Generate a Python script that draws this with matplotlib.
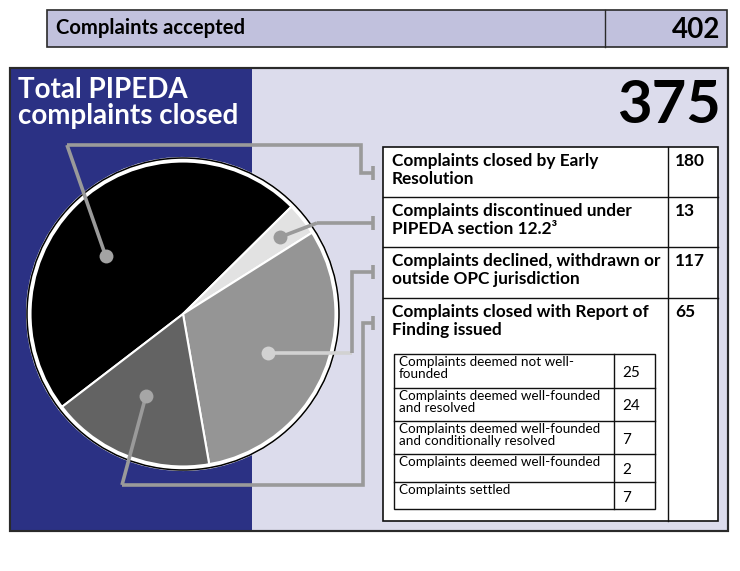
import numpy as np
import matplotlib
matplotlib.use('Agg')
import matplotlib.pyplot as plt
from matplotlib.patches import Rectangle, Circle

plt.rcParams['font.family'] = ['Lato', 'DejaVu Sans']

# ---- data ----
accepted_label = 'Complaints accepted'
accepted_total = 402
closed_title = 'Total PIPEDA\ncomplaints closed'
closed_total = 375

closed_labels = ['Complaints closed by Early\nResolution',
                 'Complaints discontinued under\nPIPEDA section 12.2\u00b3',
                 'Complaints declined, withdrawn or\noutside OPC jurisdiction',
                 'Complaints closed with Report of\nFinding issued']
closed_counts = [180, 13, 117, 65]

finding_labels = ['Complaints deemed not well-\nfounded',
                  'Complaints deemed well-founded\nand resolved',
                  'Complaints deemed well-founded\nand conditionally resolved',
                  'Complaints deemed well-founded',
                  'Complaints settled']
finding_counts = [25, 24, 7, 2, 7]

# ---- styles / layout (pixels) ----
slice_colors = ['#000000', '#e2e2e2', '#959595', '#636363']
dot_colors = ['#a3a3a3', '#9a9a9a', '#d2d2d2', '#a6a6a6']
dot_r = [0.62, 0.79, 0.60, 0.58]
dot_shift = [12, 0, -1, -3]
lead_col = '#9a9a9a'
blue = '#2b3184'
lav = '#dcdcec'
lav_top = '#c1c1dd'

W, H = 740, 571
pie_cx, pie_cy, pie_rad = 183, 314, 156

row_tops = [147, 197, 247, 298, 521]
col_x = [383, 668, 718]
sub_rows = [354, 388, 421, 454, 482, 509]
sub_x = [394, 614, 655]

# elbows for leader lines (pixel coords), last point is the T-end
elbows = [[(67, 145), (361, 145), (361, 173), (373, 173)],
          [(317, 223), (373, 223)],
          [(352, None), (352, 272), (373, 272)],
          [(122, 485), (363, 485), (363, 323), (373, 323)]]

fig = plt.figure(figsize=(W / 100, H / 100), dpi=100)
fig.patch.set_facecolor('white')

ax = fig.add_axes([0, 0, 1, 1], zorder=0)
ax.set_xlim(0, W)
ax.set_ylim(H, 0)
ax.axis('off')

# top box
ax.add_patch(Rectangle((47, 10), 680, 37, fc=lav_top, ec='#2a2a2a', lw=1.2))
ax.plot([605, 605], [10, 47], color='#2a2a2a', lw=1.0)
ax.text(56, 28.5, accepted_label, fontsize=14.6, fontweight='bold', va='center', ha='left')
ax.text(720, 30, str(accepted_total), fontsize=20, fontweight='bold', va='center', ha='right')

# main box
ax.add_patch(Rectangle((10, 68), 718, 463, fc=lav, ec='#2a2a2a', lw=1.5))
ax.add_patch(Rectangle((10, 68), 242, 463, fc=blue, ec='none'))
ax.add_patch(Rectangle((10, 68), 718, 463, fc='none', ec='#2a2a2a', lw=1.5))
ax.text(18, 77, closed_title, color='white', fontsize=20, fontweight='bold',
        va='top', ha='left', linespacing=1.0)
ax.text(721, 106, str(closed_total), fontsize=43, fontweight='bold', va='center', ha='right')

# main table
ax.add_patch(Rectangle((col_x[0], row_tops[0]), col_x[2] - col_x[0], row_tops[-1] - row_tops[0],
                       fc='white', ec='#111111', lw=1.2))
ax.plot([col_x[1], col_x[1]], [row_tops[0], row_tops[-1]], color='#111111', lw=1.0)
for y in row_tops[1:-1]:
    ax.plot([col_x[0], col_x[2]], [y, y], color='#111111', lw=1.0)
for top, lab, val in zip(row_tops, closed_labels, closed_counts):
    ax.text(col_x[0] + 9, top + 6, lab, fontsize=12.4, fontweight='bold', va='top',
            ha='left', linespacing=1.15)
    ax.text(col_x[1] + 7, top + 6, str(val), fontsize=12.4, fontweight='bold', va='top', ha='left')

# sub table
ax.add_patch(Rectangle((sub_x[0], sub_rows[0]), sub_x[2] - sub_x[0], sub_rows[-1] - sub_rows[0],
                       fc='white', ec='#111111', lw=1.0))
ax.plot([sub_x[1], sub_x[1]], [sub_rows[0], sub_rows[-1]], color='#111111', lw=1.0)
for y in sub_rows[1:-1]:
    ax.plot([sub_x[0], sub_x[2]], [y, y], color='#111111', lw=1.0)
for i, (lab, val) in enumerate(zip(finding_labels, finding_counts)):
    t, b = sub_rows[i], sub_rows[i + 1]
    ax.text(sub_x[0] + 5, t + 2, lab, fontsize=9.7, va='top', ha='left', linespacing=1.0)
    ax.text(sub_x[1] + 8, (t + b) / 2 + 2, str(val), fontsize=11, va='center', ha='left')

# pie
half = 1.15
side = 2 * half * pie_rad
pax = fig.add_axes([(pie_cx - side / 2) / W, (H - pie_cy - side / 2) / H, side / W, side / H], zorder=1)
wedges, _ = pax.pie(closed_counts, colors=slice_colors, startangle=217.5, counterclock=False,
                    wedgeprops=dict(edgecolor='white', linewidth=1.5))
pax.add_patch(Circle((0, 0), 0.985, fill=False, ec='white', lw=3.2))
pax.add_patch(Circle((0, 0), 1.0, fill=False, ec='black', lw=1.1))
pax.set_xlim(-half, half)
pax.set_ylim(-half, half)
pax.set_aspect('equal')
pax.axis('off')

# leader lines on top
lax = fig.add_axes([0, 0, 1, 1], zorder=2)
lax.set_xlim(0, W)
lax.set_ylim(H, 0)
lax.axis('off')
lax.patch.set_alpha(0)

for w, r, sh, dc, path in zip(wedges, dot_r, dot_shift, dot_colors, elbows):
    ang = np.deg2rad((w.theta1 + w.theta2) / 2 + sh)
    dx, dy = r * np.cos(ang), r * np.sin(ang)
    px, py = lax.transData.inverted().transform(pax.transData.transform((dx, dy)))
    pts = [(px, py)] + [(x, py if y is None else y) for x, y in path]
    xs = [p[0] for p in pts]
    ys = [p[1] for p in pts]
    lax.plot(xs[:2], ys[:2], color=dc if dc == dot_colors[2] else lead_col, lw=2.6,
             solid_capstyle='butt')
    lax.plot(xs[1:], ys[1:], color=lead_col, lw=2.6, solid_joinstyle='miter',
             solid_capstyle='butt')
    ex, ey = xs[-1], ys[-1]
    lax.plot([ex, ex], [ey - 7, ey + 7], color=lead_col, lw=2.6, solid_capstyle='butt')
    lax.plot([px], [py], 'o', ms=10, color=dc, mec='none')

fig.savefig('out.png', dpi=100, facecolor='white')
